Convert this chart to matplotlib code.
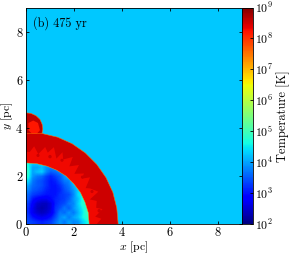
import numpy as np
import matplotlib
matplotlib.use('Agg')
import matplotlib.pyplot as plt
from matplotlib.colors import LogNorm, Normalize
from matplotlib.patches import Polygon

plt.rcParams['font.family'] = ['cmr10', 'DejaVu Serif']
plt.rcParams['mathtext.fontset'] = 'cm'
plt.rcParams['axes.formatter.use_mathtext'] = True
plt.rcParams['axes.unicode_minus'] = False

panel_label = '(b) 475 yr'

# log10 temperature of the ambient gas and the shell layers
log_ambient = 4.25
log_shell_outer = 8.52
log_shell_inner = 8.3
log_bubble = 8.62

# shell outlines, radius [pc] against angle from the x axis [deg]
angles = [0, 10, 20, 30, 40, 50, 60, 70, 80, 90]
shock_radius = [3.84, 3.84, 3.85, 3.85, 3.85, 3.85, 3.85, 3.84, 3.82, 3.75]
contact_radius = [2.63, 2.64, 2.62, 2.62, 2.60, 2.60, 2.58, 2.56, 2.55, 2.54]

# uneven edge between the bright inner shell and the darker outer shell
finger_angle = [0, 4, 6, 11, 13, 18, 21, 24, 29, 31, 36, 39, 41, 46, 48, 53,
                55, 60, 63, 65, 70, 73, 76, 80, 84, 87, 90]
finger_radius = [2.95, 3.15, 2.9, 3.25, 3.0, 3.1, 2.85, 3.3, 3.05, 2.9, 3.3, 3.0, 3.2, 2.9, 3.3,
                 3.0, 3.4, 3.1, 3.35, 3.0, 3.4, 3.1, 3.3, 2.95, 3.25, 3.0, 3.0]

# darker lumps inside the bright layer
lump_x = [0.5, 1.0, 1.5, 2.35, 2.75, 3.05]
lump_y = [2.85, 2.8, 2.65, 1.95, 1.35, 0.55]
lump_size = [5, 6, 5, 5, 5, 6]

# bubble on the y axis
bubble_x = [0, 0.2, 0.42, 0.58, 0.67, 0.70, 0.66, 0.5, 0.2, 0]
bubble_y = [4.62, 4.6, 4.5, 4.35, 4.15, 3.95, 3.75, 3.5, 3.3, 3.2]
bubble_core_x = [0.1, 0.3, 0.5, 0.58, 0.45, 0.25, 0.1]
bubble_core_y = [4.2, 4.3, 4.2, 3.9, 3.75, 3.75, 3.9]

# cavity temperature, log10 T, rows from y=0 upward, columns from x=0 rightward
cavity_x = [0, 0.2, 0.4, 0.6, 0.8, 1.0, 1.2, 1.4, 1.6, 1.8, 2.0, 2.2, 2.4, 2.6, 2.8]
cavity_y = [0, 0.2, 0.4, 0.6, 0.8, 1.0, 1.2, 1.4, 1.6, 1.8, 2.0, 2.2, 2.4, 2.6, 2.8]
cavity_log = [
    [3.4, 3.3, 3.2, 3.1, 3.2, 3.3, 3.6, 3.9, 3.7, 4.0, 3.8, 3.9, 4.3, 4.6, 4.6],
    [3.3, 3.0, 2.8, 2.7, 2.8, 3.0, 3.4, 3.8, 4.0, 3.7, 4.0, 4.2, 4.6, 4.8, 4.8],
    [3.2, 2.7, 2.5, 2.4, 2.5, 2.7, 3.2, 3.7, 3.6, 3.9, 3.7, 4.1, 4.5, 5.0, 5.0],
    [3.2, 2.7, 2.4, 2.3, 2.4, 2.6, 3.2, 3.4, 3.7, 3.5, 3.9, 4.2, 4.6, 4.9, 4.9],
    [3.3, 2.8, 2.5, 2.4, 2.4, 2.6, 3.1, 3.3, 3.4, 3.7, 3.8, 4.3, 4.8, 4.8, 4.8],
    [3.5, 3.0, 2.8, 2.7, 2.7, 2.9, 3.1, 3.2, 3.3, 3.5, 3.9, 4.2, 4.7, 4.7, 4.7],
    [3.6, 3.3, 3.2, 3.1, 3.0, 3.0, 3.0, 3.2, 3.3, 3.4, 3.8, 4.4, 4.6, 4.6, 4.6],
    [3.8, 3.5, 3.4, 3.3, 3.1, 3.0, 3.0, 3.1, 3.4, 3.6, 3.9, 4.3, 4.5, 4.5, 4.5],
    [4.0, 3.6, 3.5, 3.4, 3.2, 3.0, 3.0, 3.2, 3.5, 3.7, 4.1, 4.4, 4.4, 4.4, 4.4],
    [4.4, 3.7, 3.5, 3.4, 3.2, 3.0, 3.1, 3.4, 3.7, 3.8, 4.3, 4.4, 4.4, 4.4, 4.4],
    [4.7, 3.9, 3.7, 3.6, 3.3, 3.1, 3.3, 3.5, 3.9, 4.2, 4.4, 4.4, 4.4, 4.4, 4.4],
    [4.8, 4.0, 4.2, 4.3, 3.8, 3.5, 3.6, 3.8, 4.1, 4.3, 4.4, 4.4, 4.4, 4.4, 4.4],
    [4.7, 4.0, 4.0, 4.2, 3.9, 3.8, 4.0, 4.2, 4.4, 4.4, 4.4, 4.4, 4.4, 4.4, 4.4],
    [4.6, 4.3, 4.3, 4.4, 4.3, 4.3, 4.4, 4.4, 4.4, 4.4, 4.4, 4.4, 4.4, 4.4, 4.4],
    [4.5, 4.4, 4.4, 4.4, 4.4, 4.4, 4.4, 4.4, 4.4, 4.4, 4.4, 4.4, 4.4, 4.4, 4.4],
]

cbar_ticks = [1e2, 1e3, 1e4, 1e5, 1e6, 1e7, 1e8, 1e9]

cmap = plt.get_cmap('jet')
log_norm = Normalize(2, 9)


def outline(a_deg, radius):
    a = np.radians(a_deg)
    return np.array(radius) * np.cos(a), np.array(radius) * np.sin(a)


def tcolor(v):
    return cmap(log_norm(v))


fig = plt.figure(figsize=(2.9, 2.56), dpi=100)
ax = fig.add_axes([26 / 290, 32 / 256, 216 / 290, 216.5 / 256])
ax.set_facecolor(tcolor(log_ambient))
ax.set_xlim(0, 9)
ax.set_ylim(0, 9)

# bubble then shell
ax.fill(bubble_x, bubble_y, color=tcolor(log_bubble), lw=0, zorder=1)
ax.plot(bubble_x, bubble_y, color=tcolor(7.6), lw=0.4, zorder=1)
ax.fill(bubble_core_x, bubble_core_y, color=tcolor(8.2), lw=0, zorder=1.1)

sx, sy = outline(angles, shock_radius)
ax.fill(list(sx) + [0, 0], list(sy) + [0, 0], color=tcolor(log_shell_outer), lw=0, zorder=2)
ax.plot(sx, sy, color=tcolor(7.6), lw=0.4, zorder=2.1)
fx, fy = outline(finger_angle, finger_radius)
ax.fill(list(fx) + [0, 0], list(fy) + [0, 0], color=tcolor(log_shell_inner), lw=0, zorder=2.2)
ax.scatter(lump_x, lump_y, s=lump_size, color=tcolor(log_shell_outer), linewidths=0, zorder=2.3)

# cavity
im = ax.imshow(cavity_log, origin='lower', cmap=cmap, norm=log_norm,
               extent=[cavity_x[0], cavity_x[-1], cavity_y[0], cavity_y[-1]],
               interpolation='bilinear', aspect='auto', zorder=3)
cx, cy = outline(angles, contact_radius)
clip = Polygon(np.column_stack([list(cx) + [0], list(cy) + [0]]), closed=True,
               transform=ax.transData, fc='none', ec='none')
ax.add_patch(clip)
im.set_clip_path(clip)
ax.plot(cx, cy, color=tcolor(7.3), lw=0.3, zorder=3.1)
ax.set_xlim(0, 9)
ax.set_ylim(0, 9)

ax.set_xticks([0, 2, 4, 6, 8])
ax.set_yticks([0, 2, 4, 6, 8])
ax.tick_params(direction='in', top=True, right=True, length=2.5, width=0.6,
               labelsize=9, pad=2)
ax.tick_params(axis='x', pad=1.5)
ax.set_xlabel(r'$x$ [pc]', fontsize=8.5)
ax.set_ylabel(r'$y$ [pc]', fontsize=8.5)
ax.xaxis.set_label_coords(0.5, -0.07)
ax.yaxis.set_label_coords(-0.05, 0.5)
ax.text(0.3, 8.35, panel_label, fontsize=8.8, va='center', ha='left', zorder=5)
for s in ax.spines.values():
    s.set_linewidth(0.6)
    s.set_zorder(6)

cax = fig.add_axes([242 / 290, 32 / 256, 11 / 290, 216.5 / 256])
sm = plt.cm.ScalarMappable(norm=LogNorm(1e2, 1e9), cmap=cmap)
cb = fig.colorbar(sm, cax=cax)
cb.set_ticks(cbar_ticks)
cb.ax.minorticks_off()
cb.ax.tick_params(direction='in', length=2, width=0.6, labelsize=8.5, pad=1.5)
cb.outline.set_linewidth(0.6)
cb.set_label('Temperature [K]', fontsize=9)
cb.ax.yaxis.set_label_coords(3.1, 0.5)

fig.savefig('out.png', dpi=100)
